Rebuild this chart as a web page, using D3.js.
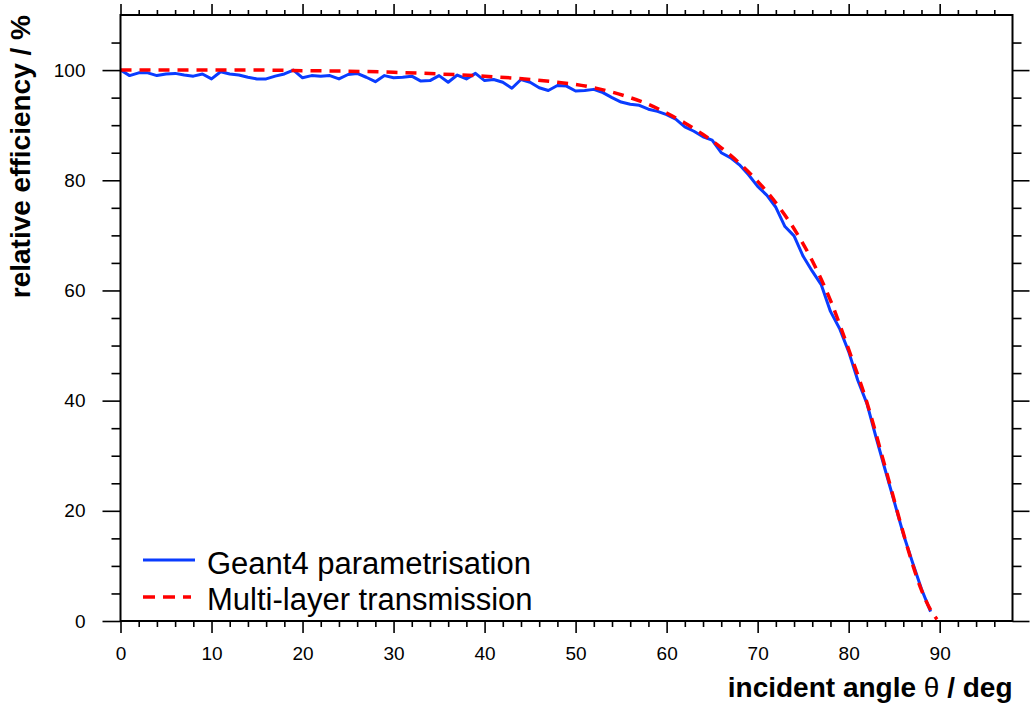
<!DOCTYPE html>
<html>
<head>
<meta charset="utf-8">
<title>relative efficiency</title>
<script src="https://d3js.org/d3.v7.min.js"></script>
<style>
  body { margin: 0; background: #fff; }
  svg text { font-family: "Liberation Sans", Arial, Helvetica, sans-serif; fill: #000; }
</style>
</head>
<body>
<svg id="chart" width="1030" height="706"></svg>
<script>
// Geant4 parametrisation, one point per degree 0..89
const geantAngles = d3.range(0, 90);
const geantValues = [
  100, 99.0, 99.5, 99.5, 99.0, 99.3, 99.4, 99.1, 98.9, 99.3,
  98.4, 99.7, 99.3, 99.1, 98.7, 98.4, 98.4, 98.9, 99.3, 100,
  98.6, 99.0, 98.9, 99.0, 98.4, 99.2, 99.4, 98.7, 97.9, 99.0,
  98.6, 98.7, 98.9, 98.0, 98.1, 99.0, 97.8, 99.1, 98.4, 99.4,
  98.1, 98.3, 97.8, 96.7, 98.3, 97.8, 96.8, 96.3, 97.2, 97.1,
  96.2, 96.3, 96.5, 95.9, 95.0, 94.2, 93.8, 93.6, 92.9, 92.5,
  91.9, 91.1, 89.7, 88.9, 87.9, 87.3, 85.0, 84.1, 82.8, 81.0,
  78.9, 77.3, 75.1, 71.6, 69.9, 66.2, 63.5, 61.0, 56.2, 53.1,
  48.9, 43.7, 39.5, 33.4, 27.5, 21.7, 15.8, 10.7, 5.8, 1.7
];

// Multi-layer transmission (smooth curve)
const mlAngles = [0, 5, 10, 15, 20, 25, 30, 35, 40, 45, 48, 50, 52, 54, 56, 58, 60, 62, 64, 66,
                  68, 70, 72, 74, 76, 78, 80, 82, 84, 86, 87, 88, 89, 89.7];
const mlValues = [100, 100, 100, 100, 99.9, 99.8, 99.6, 99.3, 98.9, 98.3, 97.8, 97.4, 96.8, 96.0, 95.0, 93.8, 92.2, 90.4, 88.3, 85.9,
                  83.1, 79.8, 75.9, 71.2, 65.4, 58.2, 49.3, 39.7, 28.0, 16.0, 10.4, 5.6, 2.0, 0.3];

const xTicks = [0, 10, 20, 30, 40, 50, 60, 70, 80, 90];
const yTicks = [0, 20, 40, 60, 80, 100];
const legendLabels = ["Geant4 parametrisation", "Multi-layer transmission"];

const svg = d3.select("#chart");
const pL = 120.5, pR = 1012.5, pT = 15, pB = 621;

const x = d3.scaleLinear().domain([0, 98]).range([pL, pR]);
const y = d3.scaleLinear().domain([0, 110]).range([pB, pT]);

const xMinor = d3.range(0, 98, 2).filter(d => d % 10 !== 0);
const yMinor = d3.range(0, 110, 5).filter(d => d % 20 !== 0);

// lines
const line = (xs, ys) => d3.line().x((d, i) => x(xs[i])).y((d, i) => y(ys[i]));

svg.append("path").datum(geantValues)
  .attr("d", line(geantAngles, geantValues))
  .attr("fill", "none").attr("stroke", "#0a3cff").attr("stroke-width", 3)
  .attr("stroke-linejoin", "round");

svg.append("path").datum(mlValues)
  .attr("d", line(mlAngles, mlValues).curve(d3.curveMonotoneX))
  .attr("fill", "none").attr("stroke", "#ff0000").attr("stroke-width", 3.5)
  .attr("stroke-dasharray", "11,8");

// axes (ticks outward on all sides)
const bottomAxis = d3.axisBottom(x).tickValues(xTicks).tickSize(12).tickPadding(14);
const gB = svg.append("g").attr("transform", `translate(0,${pB})`).call(bottomAxis);
gB.selectAll("text").attr("font-size", 19).attr("dy", "0.71em");
svg.append("g").attr("transform", `translate(0,${pB})`)
  .call(d3.axisBottom(x).tickValues(xMinor).tickSize(6).tickFormat(""));

svg.append("g").attr("transform", `translate(0,${pT})`)
  .call(d3.axisTop(x).tickValues(xTicks).tickSize(11).tickFormat(""));
svg.append("g").attr("transform", `translate(0,${pT})`)
  .call(d3.axisTop(x).tickValues(xMinor).tickSize(5).tickFormat(""));

const gL = svg.append("g").attr("transform", `translate(${pL},0)`)
  .call(d3.axisLeft(y).tickValues(yTicks).tickSize(18).tickPadding(17));
gL.selectAll("text").attr("font-size", 19);
svg.append("g").attr("transform", `translate(${pL},0)`)
  .call(d3.axisLeft(y).tickValues(yMinor).tickSize(9).tickFormat(""));

svg.append("g").attr("transform", `translate(${pR},0)`)
  .call(d3.axisRight(y).tickValues(yTicks).tickSize(17).tickFormat(""));
svg.append("g").attr("transform", `translate(${pR},0)`)
  .call(d3.axisRight(y).tickValues(yMinor).tickSize(9).tickFormat(""));

svg.selectAll(".domain").remove();
svg.selectAll(".tick line").attr("stroke", "#000").attr("stroke-width", 1.6);

// frame
svg.append("rect").attr("x", pL).attr("y", pT)
  .attr("width", pR - pL).attr("height", pB - pT)
  .attr("fill", "none").attr("stroke", "#000").attr("stroke-width", 2);

// axis titles
const xt = svg.append("text").attr("x", pR).attr("y", 697)
  .attr("text-anchor", "end").attr("font-size", 28).attr("font-weight", "bold");
xt.append("tspan").text("incident angle ");
xt.append("tspan").attr("font-weight", "normal").text("\u03b8");
xt.append("tspan").text(" / deg");

svg.append("text").attr("transform", `translate(30,${pT}) rotate(-90)`)
  .attr("text-anchor", "end").attr("font-size", 28).attr("font-weight", "bold")
  .text("relative efficiency / %");

// legend
const lg = svg.append("g");
lg.append("line").attr("x1", 143).attr("x2", 195).attr("y1", 560).attr("y2", 560)
  .attr("stroke", "#0a3cff").attr("stroke-width", 3);
lg.append("line").attr("x1", 143).attr("x2", 191).attr("y1", 597).attr("y2", 597)
  .attr("stroke", "#ff0000").attr("stroke-width", 3.5).attr("stroke-dasharray", "12,8");
lg.selectAll("text.leg").data(legendLabels).join("text").attr("class", "leg")
  .attr("x", 207).attr("y", (d, i) => 574 + i * 36)
  .attr("font-size", 31).text(d => d);
</script>
</body>
</html>
